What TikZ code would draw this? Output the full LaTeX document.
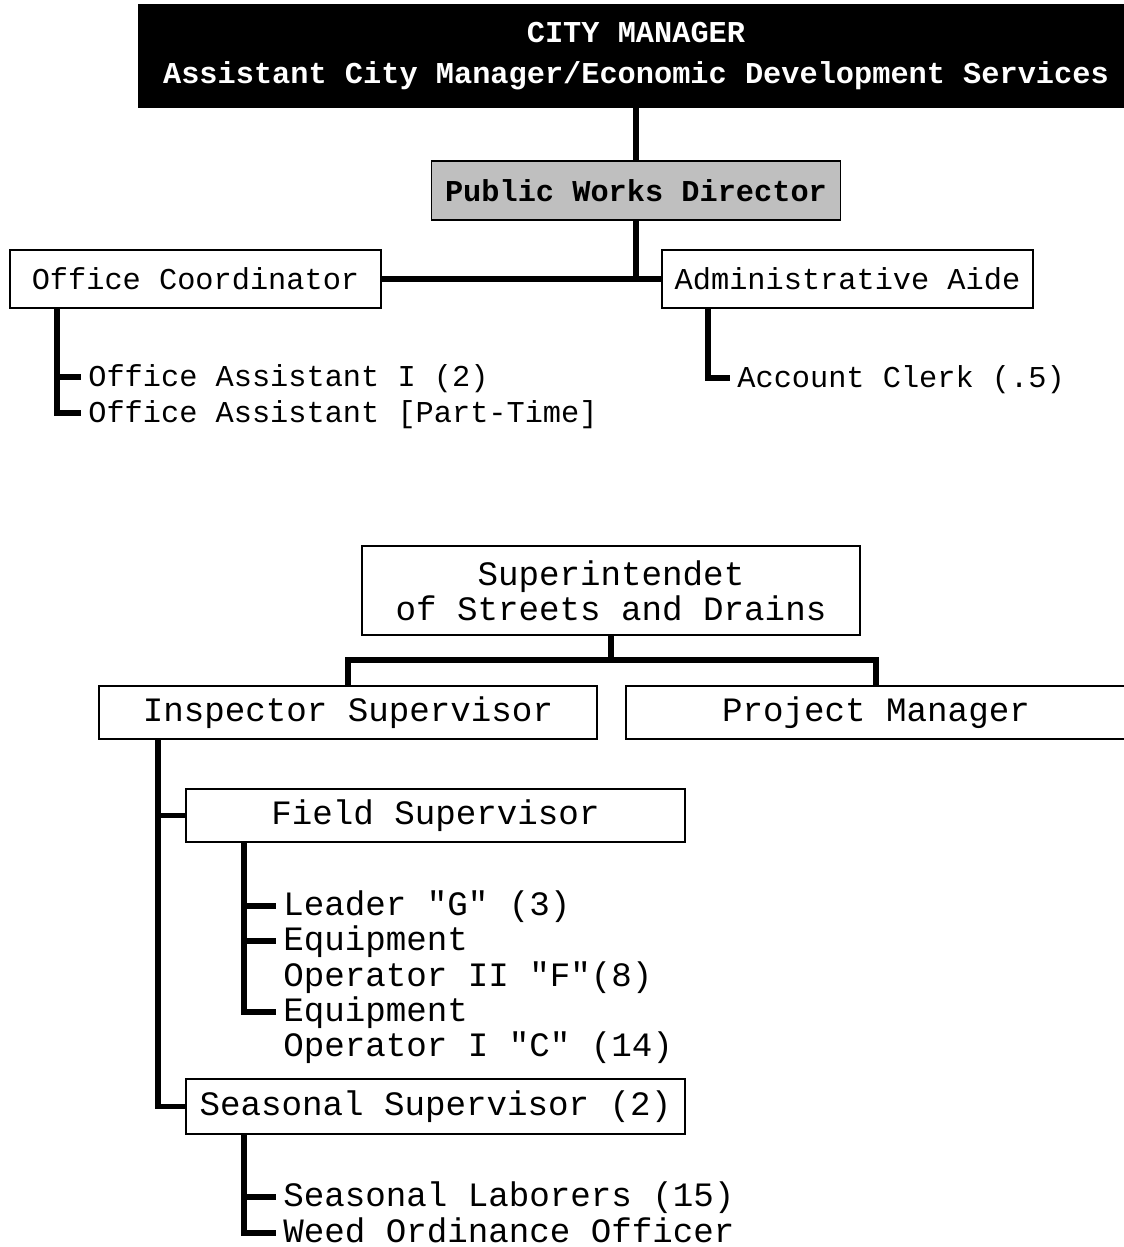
\documentclass[tikz,border=0pt]{standalone}
\usepackage{fontspec}
\setmainfont{Liberation Mono}
\usepackage{tikz}
\tikzset{
    box/.style={draw=black, line width=1pt, inner sep=0pt, align=center},
    upper/.style={font=\fontsize{17.25}{22.2}\selectfont},
    lower/.style={font=\fontsize{19.45}{19.9}\selectfont},
    leaf/.style={anchor=west, inner xsep=4pt, inner ysep=0pt, text height=14pt, text depth=3pt},
    link/.style={line width=3.2pt, line join=miter}
}

\begin{document}
\begin{tikzpicture}[x=0.02cm, y=-0.02cm]

            \useasboundingbox (0,0) rectangle (1123,1247);

            % upper part
            \node[box, fill=black, text=white, font=\fontsize{17.25}{23.5}\selectfont\bfseries, minimum width=19.88cm, minimum height=2.04cm] (cm) at (636,56) {CITY MANAGER\\Assistant City Manager/Economic Development Services};
            \node[box, fill=black!25, font=\fontsize{17.25}{22.2}\selectfont\bfseries, minimum width=8.18cm, minimum height=1.18cm] (pwd) at (636,190.5) {Public Works Director};
            \node[box, upper, minimum width=7.42cm, minimum height=1.16cm] (oc) at (195.5,279) {Office Coordinator};
            \node[box, upper, minimum width=7.42cm, minimum height=1.16cm] (aa) at (847.5,279) {Administrative Aide};

            \node[leaf, upper] (oa1) at (81,377) {Office Assistant I (2)};
            \node[leaf, upper] (oa2) at (81,413) {Office Assistant [Part-Time]};
            \node[leaf, upper] (ac) at (730,378) {Account Clerk (.5)};

            \coordinate (j1) at (636,279);
            \coordinate (ocb) at (57,308);
            \coordinate (aab) at (708,308);

            \draw[link] (cm.south) -- (pwd.north);
            \draw[link] (pwd.south) -- (j1);
            \draw[link] (oc.east) -- (aa.west);
            \draw[link] (ocb) |- (oa2.west);
            \draw[link] (ocb |- oa1.west) -- (oa1.west);
            \draw[link] (aab) |- (ac.west);

            % lower part
            \node[box, lower, minimum width=9.96cm, minimum height=1.78cm] (sup) at (611,590.5) {Superintendet\\of Streets and Drains};
            \node[box, lower, minimum width=9.96cm, minimum height=1.06cm] (insp) at (348,712.5) {Inspector Supervisor};
            \node[box, lower, minimum width=10cm, minimum height=1.06cm] (pm) at (876,712.5) {Project Manager};
            \node[box, lower, minimum width=9.98cm, minimum height=1.06cm] (fs) at (435.5,815.5) {Field Supervisor};
            \node[box, lower, minimum width=9.98cm, minimum height=1.10cm] (ss) at (435.5,1106.5) {Seasonal Supervisor (2)};

            \node[leaf, lower] (ld) at (276,906) {Leader \textquotedbl G\textquotedbl{} (3)};
            \node[leaf, lower] (eq1) at (276,941) {Equipment};
            \node[leaf, lower] (op1) at (276,977) {Operator II \textquotedbl F\textquotedbl(8)};
            \node[leaf, lower] (eq2) at (276,1012) {Equipment};
            \node[leaf, lower] (op2) at (276,1047) {Operator I \textquotedbl C\textquotedbl{} (14)};
            \node[leaf, lower] (sl) at (276,1197) {Seasonal Laborers (15)};
            \node[leaf, lower] (wo) at (276,1233) {Weed Ordinance Officer};

            \coordinate (j2) at (611,660);
            \coordinate (ib) at (158,739);
            \coordinate (fb) at (244,842);
            \coordinate (sb) at (244,1134);

            \draw[link] (sup.south) -- (j2);
            \draw[link] (insp.north) |- (j2) -| (pm.north);
            \draw[link] (ib) |- (ss.west);
            \draw[link] (ib |- fs.west) -- (fs.west);
            \draw[link] (fb) |- (eq2.west);
            \draw[link] (fb |- ld.west) -- (ld.west);
            \draw[link] (fb |- eq1.west) -- (eq1.west);
            \draw[link] (sb) |- (wo.west);
            \draw[link] (sb |- sl.west) -- (sl.west);

        \end{tikzpicture}
\end{document}
